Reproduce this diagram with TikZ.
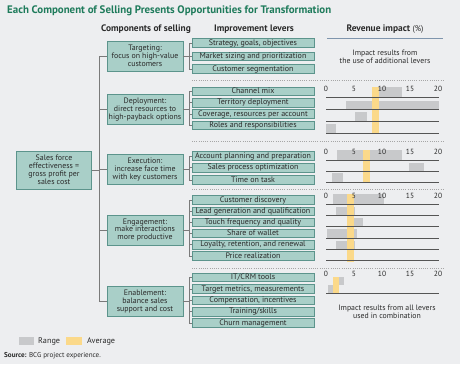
\documentclass[tikz,border=0pt]{standalone}
\usepackage{fontspec}
\setmainfont{PT Sans}
\definecolor{bg}{HTML}{EDEEF0}
\definecolor{tfill}{HTML}{A9CFC8}
\definecolor{tdraw}{HTML}{5C948C}
\definecolor{ttl}{HTML}{1E7B5B}
\definecolor{avg}{HTML}{FBD98A}
\definecolor{rng}{HTML}{C8C9CB}
\definecolor{conn}{HTML}{7A7A7A}
\definecolor{base}{HTML}{555555}
\definecolor{txt}{HTML}{2A2A2A}
\definecolor{hline}{HTML}{7F95AD}
\tikzset{
  comp/.style={draw=tdraw, fill=tfill, line width=0.8pt, minimum width=76pt, minimum height=30pt, inner sep=1pt, align=center, text=txt, font=\fontsize{7.9}{7.9}\selectfont},
  lever/.style={draw=tdraw, fill=tfill, line width=0.8pt, minimum width=122pt, minimum height=8.3pt, inner ysep=0.4pt, inner xsep=0pt, text height=5.7pt, text depth=1.6pt, text=txt, font=\fontsize{8}{8}\selectfont},
  conline/.style={draw=conn, line width=0.7pt},
  hdr/.style={font=\fontsize{9.4}{10}\selectfont\bfseries, text=txt},
  axlab/.style={font=\fontsize{7.5}{8}\selectfont, text=txt, inner sep=0pt},
  baseln/.style={draw=base, line width=0.7pt},
  sep/.style={draw=gray!70, line width=0.6pt, dash pattern=on 1pt off 1.2pt},
  note/.style={font=\fontsize{7.8}{7.6}\selectfont, text=txt, align=center},
  legtext/.style={anchor=west, font=\fontsize{8.2}{9}\selectfont, text=txt, inner sep=0},
}
\begin{document}
\begin{tikzpicture}[x=1pt,y=-1pt]
\fill[bg] (0,0) rectangle (460,364);
\useasboundingbox (0,0) rectangle (460,364);

% title and headers
\node[anchor=west, text=ttl, font=\fontsize{10.9}{12}\selectfont\bfseries, inner sep=0] (title) at (7,11) {Each Component of Selling Presents Opportunities for Transformation};
\node[hdr] (h1) at (146,29) {Components of selling};
\node[hdr] (h2) at (254,29) {Improvement levers};
\node[hdr] (h3) at (385,29) {Revenue impact {\mdseries\fontsize{8.2}{9}\selectfont(\%)}};
\coordinate (ul1) at (327,38);
\coordinate (ul2) at (443,38);
\draw[hline, line width=0.8pt] (ul1) -- (ul2);

% root and components
\node[comp, minimum width=75pt, minimum height=38pt] (root) at (54,170) {Sales force\\effectiveness =\\gross profit per\\sales cost};
\node[comp] (T) at (145,56) {Targeting:\\focus on high-value\\customers};
\node[comp] (D) at (145,109.5) {Deployment:\\direct resources to\\high-payback options};
\node[comp] (X) at (145,169.5) {Execution:\\increase face time\\with key customers};
\node[comp] (E) at (145,230) {Engagement:\\make interactions\\more productive};
\node[comp] (N) at (145,301.5) {Enablement:\\balance sales\\support and cost};

\coordinate (tx) at (99,0);
\draw[conline] (root.east) -- (root.east -| tx);
\draw[conline] (T.west -| tx) -- (N.west -| tx);
\foreach \c in {T,D,X,E,N} \draw[conline] (\c.west) -- (\c.west -| tx);

% levers
\node[lever] (L1) at (253,43) {Strategy, goals, objectives};
\node[lever] (L2) at (253,56.5) {Market sizing and prioritization};
\node[lever] (L3) at (253,69) {Customer segmentation};
\node[lever] (L4) at (253,91.5) {Channel mix};
\node[lever] (L5) at (253,102.8) {Territory deployment};
\node[lever] (L6) at (253,114) {Coverage, resources per account};
\node[lever] (L7) at (253,125.5) {Roles and responsibilities};
\node[lever] (L8) at (253,156) {Account planning and preparation};
\node[lever] (L9) at (253,167.8) {Sales process optimization};
\node[lever] (L10) at (253,180) {Time on task};
\node[lever] (L11) at (253,200) {Customer discovery};
\node[lever] (L12) at (253,211.2) {Lead generation and qualification};
\node[lever] (L13) at (253,222.3) {Touch frequency and quality};
\node[lever] (L14) at (253,233.5) {Share of wallet};
\node[lever] (L15) at (253,244.8) {Loyalty, retention, and renewal};
\node[lever] (L16) at (253,256) {Price realization};
\node[lever] (L17) at (253,277.5) {IT/CRM tools};
\node[lever] (L18) at (253,289) {Target metrics, measurements};
\node[lever] (L19) at (253,300.5) {Compensation, incentives};
\node[lever] (L20) at (253,311.8) {Training/skills};
\node[lever] (L21) at (253,323) {Churn management};

\coordinate (bx) at (189,0);
\draw[conline] (T.east) -- (T.east -| bx);
\draw[conline] (D.east) -- (D.east -| bx);
\draw[conline] (X.east) -- (X.east -| bx);
\draw[conline] (E.east) -- (E.east -| bx);
\draw[conline] (N.east) -- (N.east -| bx);
\draw[conline] (L1.west -| bx) -- (L3.west -| bx);
\draw[conline] (L4.west -| bx) -- (L7.west -| bx);
\draw[conline] (L8.west -| bx) -- (L10.west -| bx);
\draw[conline] (L11.west -| bx) -- (L16.west -| bx);
\draw[conline] (L17.west -| bx) -- (L21.west -| bx);
\foreach \i in {1,...,21} \draw[conline] (L\i.west) -- (L\i.west -| bx);

% separators
\foreach \y/\n in {80/s1,141/s2,189/s3,268/s4} {
  \coordinate (\n a) at (192,\y);
  \coordinate (\n b) at (443,\y);
  \draw[sep] (\n a) -- (\n b);
}

% notes
\node[note] (n1) at (385,56.5) {Impact results from\\the use of additional levers};
\node[note] (n2) at (387,311.5) {Impact results from all levers\\used in combination};

% ---- Deployment chart
\fill[rng] (372,87) rectangle (402,97);
\fill[rng] (346,101) rectangle (439,110);
\fill[rng] (355,112) rectangle (367,121);
\fill[rng] (326,124) rectangle (336,133);
\fill[avg] (372,87) rectangle (379,133);
\foreach \y in {97,109.5,121,133} \draw[baseln] (326,\y) -- (439,\y);
% ---- Execution chart
\fill[rng] (337,150) rectangle (402,160);
\fill[rng] (409,163) rectangle (424,171);
\fill[rng] (332,173) rectangle (343,182);
\fill[avg] (363,150) rectangle (370,183);
\foreach \y in {160,171,182} \draw[baseln] (326,\y) -- (439,\y);
% ---- Engagement chart
\fill[rng] (333,194) rectangle (384,204);
\fill[rng] (336,207) rectangle (355,215);
\fill[rng] (353,218) rectangle (363,226);
\fill[rng] (327,229) rectangle (357,238);
\fill[rng] (336,241) rectangle (355,249);
\fill[avg] (347,194) rectangle (354,262);
\foreach \y in {204,215,226,238,249,260} \draw[baseln] (326,\y) -- (439,\y);
% ---- Enablement chart
\fill[rng] (333,277) rectangle (344,285);
\fill[rng] (328,285) rectangle (339,293);
\fill[avg] (333,277) rectangle (339,293);
\draw[baseln] (326,293) -- (439,293);

% axis labels
\foreach \y/\r in {89/a,152/b,196/c,274/d} {
  \node[axlab] (\r0) at (326,\y) {0};
  \node[axlab] (\r5) at (354,\y) {5};
  \node[axlab] (\r10) at (382,\y) {10};
  \node[axlab] (\r15) at (410,\y) {15};
  \node[axlab] (\r20) at (438,\y) {20};
}

% legend
\fill[rng] (19,337) rectangle (34,345);
\node[legtext] (lr) at (38,341) {Range};
\fill[avg] (66,337) rectangle (82,345);
\node[legtext] (la) at (87,341) {Average};
\node[anchor=west, font=\fontsize{7.1}{8}\selectfont, text=txt, inner sep=0] (src) at (4,356) {\textbf{Source:} BCG project experience.};
\end{tikzpicture}
\end{document}
